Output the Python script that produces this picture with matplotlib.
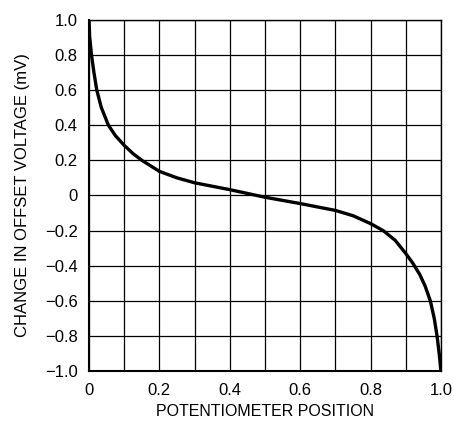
import matplotlib
matplotlib.use("Agg")
import matplotlib.pyplot as plt
import numpy as np

plt.rcParams['font.family'] = ['Liberation Sans', 'DejaVu Sans']

# curve
pos = [0, 0.002, 0.007, 0.014, 0.022, 0.035, 0.055, 0.075, 0.1, 0.125, 0.15, 0.2, 0.25,
       0.3, 0.4, 0.5, 0.6, 0.7, 0.75, 0.8, 0.836, 0.87, 0.9, 0.92, 0.94, 0.955, 0.97,
       0.981, 0.989, 0.995, 1.0]
dv = [1.0, 0.9, 0.8, 0.7, 0.6, 0.5, 0.4, 0.34, 0.285, 0.238, 0.2, 0.137, 0.1,
      0.072, 0.033, -0.01, -0.046, -0.085, -0.115, -0.16, -0.2, -0.255, -0.33, -0.385, -0.45, -0.515, -0.6,
      -0.7, -0.8, -0.9, -1.0]

xticks = [0, 0.2, 0.4, 0.6, 0.8, 1.0]
xlabels = ['0', '0.2', '0.4', '0.6', '0.8', '1.0']
yticks = [1.0, 0.8, 0.6, 0.4, 0.2, 0, -0.2, -0.4, -0.6, -0.8, -1.0]
ylabels = ['1.0', '0.8', '0.6', '0.4', '0.2', '0', '\u22120.2', '\u22120.4', '\u22120.6', '\u22120.8', '\u22121.0']

fig = plt.figure(figsize=(4.54, 4.24), dpi=100)
ax = fig.add_axes([0.196, 0.124, 0.7753, 0.830])

ax.plot(pos, dv, color='black', lw=2.4, solid_capstyle='butt', solid_joinstyle='round', zorder=3)

ax.set_xlim(0, 1)
ax.set_ylim(-1, 1)
ax.set_xticks(np.arange(0, 1.01, 0.1), minor=True)
ax.set_xticks(xticks)
ax.set_xticklabels(xlabels)
ax.set_yticks(yticks)
ax.set_yticklabels(ylabels)
ax.grid(True, which='both', color='black', lw=0.9)
ax.tick_params(which='both', length=0, labelsize=12, pad=8)
for s in ax.spines.values():
    s.set_linewidth(1.0)
ax.spines['left'].set_linewidth(1.5)
ax.spines['bottom'].set_linewidth(1.5)

ax.set_xlabel('POTENTIOMETER POSITION', fontsize=11.5, labelpad=5)
ax.set_ylabel('CHANGE IN OFFSET VOLTAGE (mV)', fontsize=12, labelpad=11)

fig.savefig('out.png', dpi=100)
